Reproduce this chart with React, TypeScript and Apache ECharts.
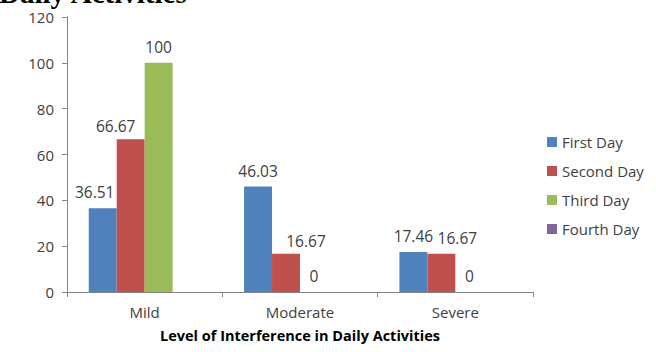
import React, { useEffect, useRef } from "react";
import * as echarts from "echarts";

const categories = ["Mild", "Moderate", "Severe"];
const firstDay = [36.51, 46.03, 17.46];
const secondDay = [66.67, 16.67, 16.67];
const thirdDay = [100, 0, 0];
const fourthDay = [0, 0, 0];
const seriesNames = ["First Day", "Second Day", "Third Day", "Fourth Day"];
const colors = ["#4F81BD", "#C0504D", "#9BBB59", "#8064A2"];

// label nudges (style only): [seriesIndex, categoryIndex, dx, dy]
const labelNudges: [number, number, number, number][] = [
  [0, 0, -8, 0],
  [1, 0, -15, 3],
  [1, 1, 20, 3],
  [1, 2, 16, 0],
];

const FONT = "'Open Sans', sans-serif";
const TXT = "#404040";

export default function App() {
  const ref = useRef<HTMLDivElement>(null);
  useEffect(() => {
    const chart = echarts.init(ref.current!, null, { renderer: "svg" });
    const data = [firstDay, secondDay, thirdDay, fourthDay];
    chart.setOption({
      animation: false,
      title: {
        text: "Daily Activities",
        left: -1,
        top: -22,
        padding: 0,
        textStyle: { fontFamily: "'Liberation Serif', serif", fontSize: 29, fontWeight: "bold", color: "#000" },
      },
      legend: {
        orient: "vertical",
        left: 547,
        top: 134.5,
        padding: 0,
        itemWidth: 10,
        itemHeight: 10,
        itemGap: 14,
        icon: "rect",
        data: seriesNames,
        textStyle: { fontFamily: FONT, fontSize: 15, color: TXT, lineHeight: 15 },
      },
      grid: { left: 67, right: 123, top: 17, bottom: 60, containLabel: false },
      xAxis: {
        type: "category",
        data: categories,
        name: "Level of Interference in Daily Activities",
        nameLocation: "middle",
        nameGap: 36,
        nameTextStyle: { fontFamily: FONT, fontSize: 14.5, fontWeight: "bold", color: "#000" },
        axisLine: { lineStyle: { color: "#868686" } },
        axisTick: { show: true, length: 5, lineStyle: { color: "#868686" } },
        axisLabel: { fontFamily: FONT, fontSize: 15, color: TXT, margin: 12 },
      },
      yAxis: {
        type: "value",
        min: 0,
        max: 120,
        interval: 20,
        axisLine: { show: true, lineStyle: { color: "#868686" } },
        axisTick: { show: true, length: 5, lineStyle: { color: "#868686" } },
        axisLabel: { fontFamily: FONT, fontSize: 15, color: TXT, margin: 13 },
        splitLine: { show: false },
      },
      series: data.map((d, i) => ({
        name: seriesNames[i],
        type: "bar",
        data: d.map((v, j) => {
          const n = labelNudges.find((x) => x[0] === i && x[1] === j);
          return n ? { value: v, label: { offset: [n[2], n[3]] } } : v;
        }),
        barGap: "0%",
        barCategoryGap: "28%",
        itemStyle: { color: colors[i] },
        label: {
          show: i < 3,
          position: "top",
          distance: 8,
          fontFamily: FONT,
          fontSize: 15.5,
          color: TXT,
        },
      })),
    });
    return () => chart.dispose();
  }, []);
  return <div ref={ref} style={{ position: "absolute", left: 0, top: 0, width: 656, height: 352 }} />;
}
